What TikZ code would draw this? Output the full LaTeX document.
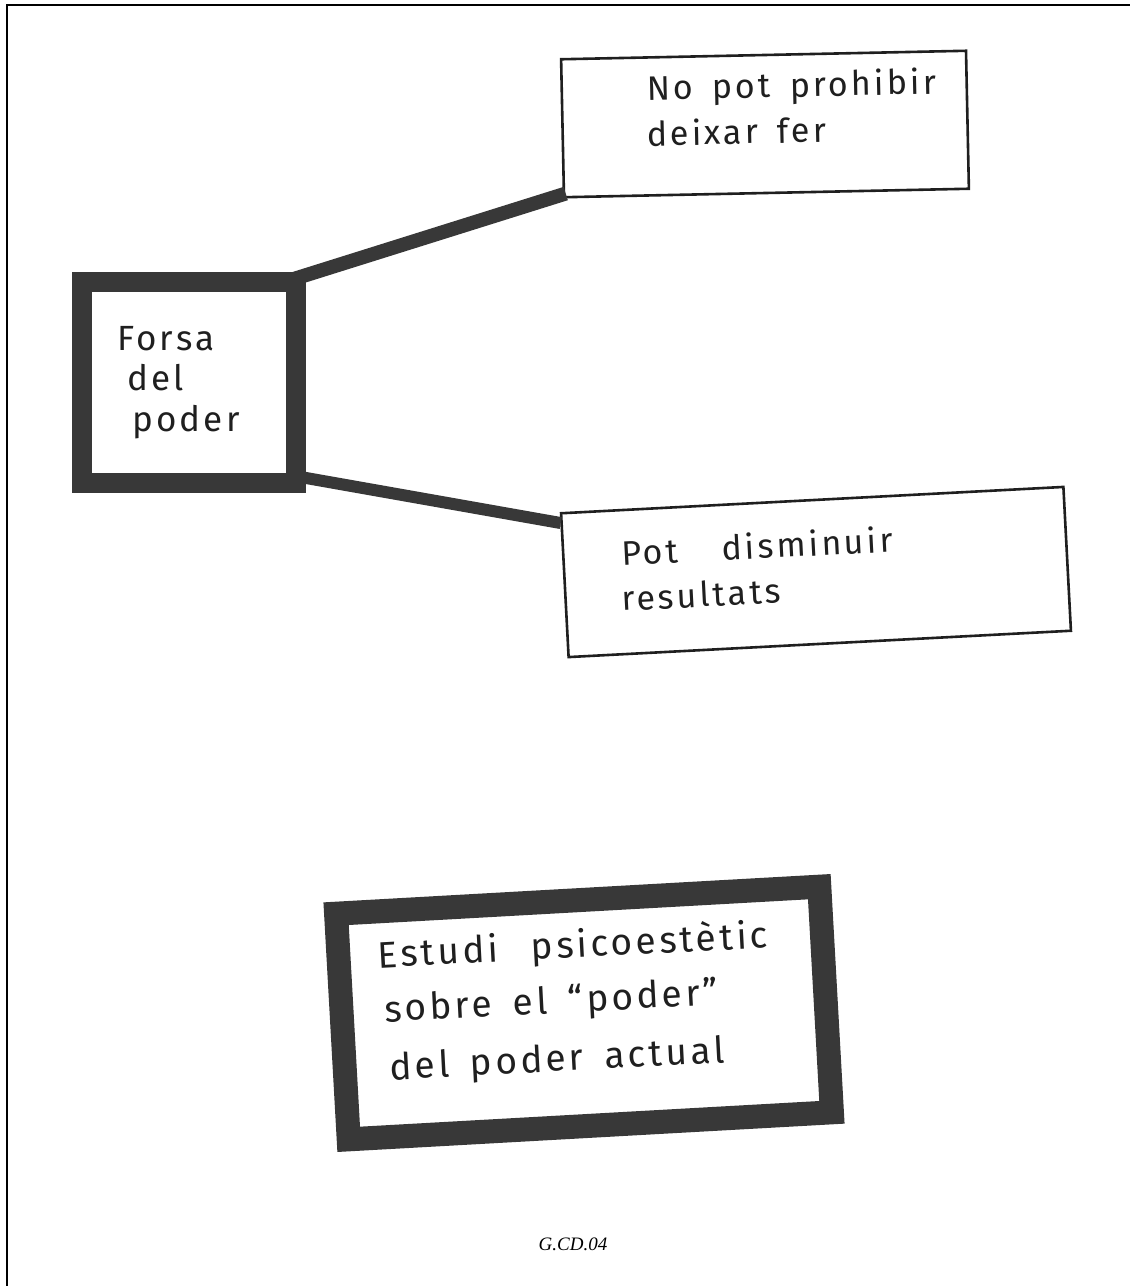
\documentclass[tikz,border=0pt]{standalone}
\usepackage{fontspec}
\setmainfont{Liberation Serif}
\newfontfamily\handfont[LetterSpace=9,WordSpace=1.6]{Fira Sans}
\usetikzlibrary{calc}
\begin{document}
\begin{tikzpicture}[x=1pt,y=-1pt,
  thickbox/.style={draw=black!78, line width=20pt, fill=white, inner sep=0pt},
  thinbox/.style={draw=black!88, line width=2.6pt, fill=white, inner sep=0pt},
  hand/.style={font=\handfont\fontsize{34}{38}\selectfont, inner sep=0pt, anchor=base west, text=black!88},
  link/.style={draw=black!78, line cap=butt}]
\useasboundingbox (0,0) rectangle (1130,1286);
\draw[black, line width=2.5pt] (1130,5) -- (7,5) -- (7,1286);

% boxes
\node[thickbox, minimum width=214pt, minimum height=201pt] (A) at (189,382) {};
\node[thinbox, minimum width=405pt, minimum height=138pt, rotate=1.2] (B) at (765,124) {};
\node[thinbox, minimum width=503pt, minimum height=144pt, rotate=3] (C) at (816,572) {};
\node[thickbox, line width=24pt, minimum width=484pt, minimum height=226pt, rotate=3.2] (D) at (584,1013) {};

% connectors
\draw[link, line width=14pt] ($(A.north east)+(-14,8)$) -- ($(B.south west)+(3,-5)$);
\draw[link, line width=12pt] ($(A.south east)+(-14,-17)$) -- ($(C.north west)+(1,11)$);

% texts
\node[hand, font=\handfont\fontsize{35}{38}\selectfont] (A1) at (117,350) {Forsa};
\node[hand, font=\handfont\fontsize{35}{38}\selectfont] (A2) at (127,390) {del};
\node[hand, font=\handfont\fontsize{35}{38}\selectfont] (A3) at (132,431) {poder};

\node[hand, rotate=1.2] (B1) at (647,100) {No pot prohibir};
\node[hand, rotate=1.2] (B2) at (647,146) {deixar fer};

\node[hand, rotate=3] (C1) at (622,566) {Pot\hspace{24pt} disminuir};
\node[hand, rotate=3] (C2) at (622,611) {resultats};

\node[hand, rotate=3, font=\handfont\fontsize{37}{40}\selectfont] (D1) at (378,968) {Estudi\hspace{12pt} psicoestètic};
\node[hand, rotate=3, font=\handfont\fontsize{37}{40}\selectfont] (D2) at (385,1022) {sobre el “poder”};
\node[hand, rotate=3, font=\handfont\fontsize{37}{40}\selectfont] (D3) at (390,1080) {del poder actual};

\node[font=\itshape\fontsize{19}{22}\selectfont, inner sep=0pt] (F) at (573,1244) {G.CD.04};
\end{tikzpicture}
\end{document}
